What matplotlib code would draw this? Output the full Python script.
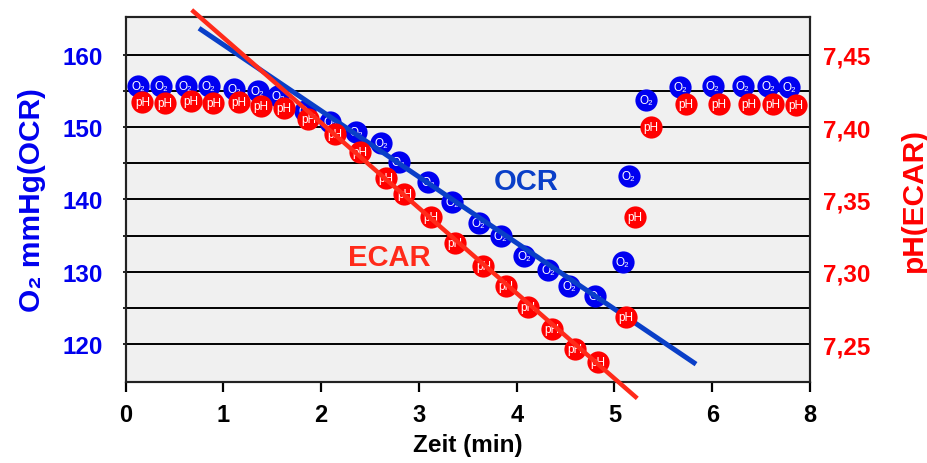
import matplotlib
matplotlib.use("Agg")
import matplotlib.pyplot as plt

# ---------------- data ----------------
xtick_labels = ["0", "1", "2", "3", "4", "5", "6", "8"]

ocr_x = [0.126, 0.361, 0.614, 0.849, 1.111, 1.350, 1.561, 1.834, 2.090, 2.356,
         2.612, 2.793, 3.095, 3.338, 3.611, 3.834, 4.075, 4.323, 4.538, 4.801,
         5.084, 5.145, 5.322, 5.673, 6.005, 6.311, 6.573, 6.788]
ocr_y = [155.63, 155.63, 155.67, 155.67, 155.30, 155.02, 154.25, 152.26, 150.74, 149.35,
         147.79, 145.12, 142.44, 139.59, 136.73, 134.97, 132.21, 130.27, 128.06, 126.68,
         131.38, 143.19, 153.78, 155.53, 155.63, 155.67, 155.63, 155.53]

ecar_x = [0.170, 0.402, 0.665, 0.896, 1.156, 1.384, 1.619, 1.868, 2.141, 2.397,
          2.663, 2.850, 3.123, 3.369, 3.658, 3.887, 4.112, 4.358, 4.596, 4.834,
          5.117, 5.209, 5.370, 5.732, 6.066, 6.373, 6.624, 6.854]
ecar_y = [7.4173, 7.4166, 7.4180, 7.4166, 7.4176, 7.4147, 7.4132, 7.4055, 7.3952, 7.3825,
          7.3646, 7.3537, 7.3376, 7.3198, 7.3037, 7.2903, 7.2754, 7.2604, 7.2466, 7.2375,
          7.2685, 7.3376, 7.3998, 7.4159, 7.4159, 7.4159, 7.4159, 7.4154]

ocr_fit_x = [0.750, 5.834]
ocr_fit_y = [163.65, 117.23]
ecar_fit_x = [0.675, 5.233]
ecar_fit_y = [7.4809, 7.2125]

left_ticks = [120, 130, 140, 150, 160]
grid_levels = [120, 125, 130, 135, 140, 145, 150, 155, 160]
right_ticks = [7.25, 7.30, 7.35, 7.40, 7.45]
right_tick_labels = ["7,25", "7,30", "7,35", "7,40", "7,45"]

# ---------------- style ----------------
FONT = ["Liberation Sans", "DejaVu Sans"]
plt.rcParams["font.family"] = FONT
plt.rcParams["font.weight"] = "bold"

BLUE_PT = "#0000f0"
BLUE_LINE = "#0a3fc8"
RED_PT = "#ff0000"
RED_LINE = "#ff2a1a"
LBL_BLUE = "#0000ee"
LBL_RED = "#ff0000"

fig = plt.figure(figsize=(9.27, 4.64), dpi=100)
ax = fig.add_axes([0.1356, 0.1739, 0.7382, 0.788])
ax.set_facecolor("#f0f0f0")

ylo, yhi = 114.72, 165.25
ax.set_ylim(ylo, yhi)
ax.set_xlim(0, 7)

ax2 = ax.twinx()
ax2.set_ylim(7.45 + (ylo - 160) * 0.005, 7.45 + (yhi - 160) * 0.005)

# grid lines
for g in grid_levels:
    ax.axhline(g, color="black", lw=1.4, zorder=1)

# ticks
ax.set_xticks(range(len(xtick_labels)))
ax.set_xticklabels(xtick_labels, fontsize=17, fontweight="bold")
ax.tick_params(axis="x", direction="out", length=7, width=1.6, pad=8)

ax.set_yticks(grid_levels)
ax.set_yticklabels([str(v) if v in left_ticks else "" for v in grid_levels],
                   fontsize=17.5, fontweight="bold", color=LBL_BLUE)
ax.tick_params(axis="y", direction="out", length=2.5, width=1.2, pad=14)

ax2.set_yticks(right_ticks)
ax2.set_yticklabels(right_tick_labels, fontsize=17.5, fontweight="bold", color=LBL_RED)
ax2.tick_params(axis="y", length=0, pad=9)

for a in (ax, ax2):
    for s in a.spines.values():
        s.set_linewidth(1.5)
        s.set_color("#222222")

# labels
ax.set_xlabel("Zeit (min)", fontsize=17.5, fontweight="bold", labelpad=5)
ax.set_ylabel("O\u2082 mmHg(OCR)", fontsize=21.5, fontweight="bold", color=LBL_BLUE, labelpad=12)
ax2.set_ylabel("pH(ECAR)", fontsize=21.5, fontweight="bold", color=LBL_RED, labelpad=22)

# OCR markers + line
ax.plot(ocr_x, ocr_y, "o", ms=16, color=BLUE_PT, mec="none", zorder=3)
for xx, yy in zip(ocr_x, ocr_y):
    ax.text(xx, yy, "O\u2082", color="white", fontsize=8.5, fontweight="normal",
            ha="center", va="center", zorder=4)
ax.plot(ocr_fit_x, ocr_fit_y, color=BLUE_LINE, lw=3.6, solid_capstyle="butt",
        zorder=5, clip_on=False)

# ECAR markers + line
ax2.plot(ecar_x, ecar_y, "o", ms=16, color=RED_PT, mec="none", zorder=3)
for xx, yy in zip(ecar_x, ecar_y):
    ax2.text(xx, yy, "pH", color="white", fontsize=8.5, fontweight="normal",
             ha="center", va="center", zorder=4)
ax2.plot(ecar_fit_x, ecar_fit_y, color=RED_LINE, lw=3.2, solid_capstyle="butt",
         zorder=5, clip_on=False)

ax.text(4.1, 142.6, "OCR", color=BLUE_LINE, fontsize=21, fontweight="bold",
        ha="center", va="center", zorder=6)
ax.text(2.7, 132.0, "ECAR", color=RED_LINE, fontsize=21, fontweight="bold",
        ha="center", va="center", zorder=6)

fig.savefig("out.png", dpi=100)
